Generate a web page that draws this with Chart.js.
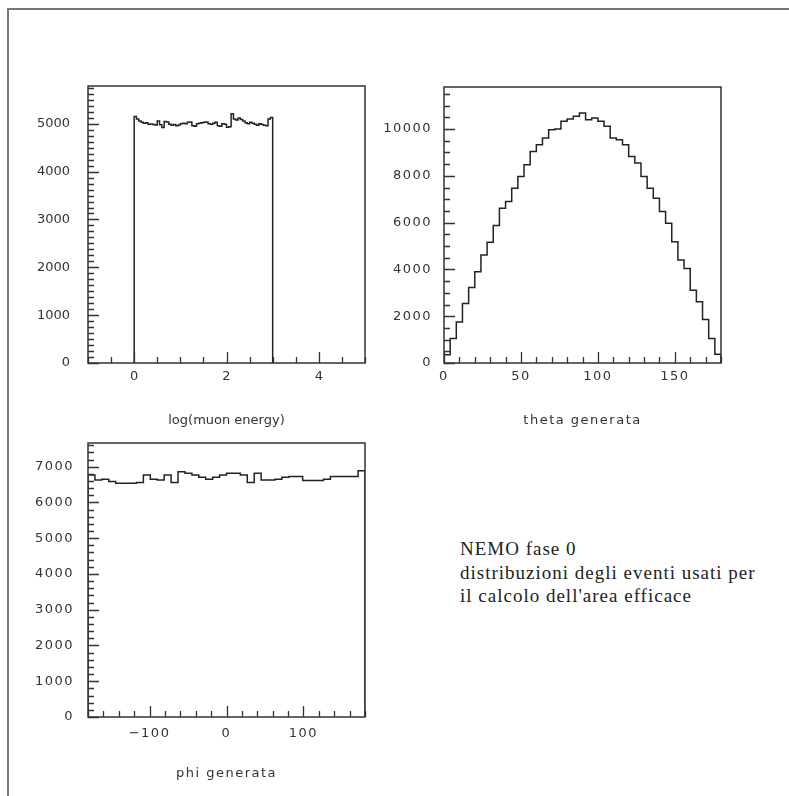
<!DOCTYPE html>
<html>
<head>
<meta charset="utf-8">
<script src="https://cdn.jsdelivr.net/npm/chart.js@4.4.1/dist/chart.umd.min.js"></script>
<style>
  html, body { margin: 0; padding: 0; background: #fff; }
  body { width: 789px; height: 796px; position: relative; overflow: hidden; }
  #frame { position: absolute; left: 7px; top: 8px; width: 790px; height: 800px;
           border-top: 2px solid #777; border-left: 2px solid #777; }
  canvas { position: absolute; }
  #note { position: absolute; left: 460px; top: 537px; color: #222; letter-spacing: 1px;
          font: 19px "Liberation Serif", serif; line-height: 23.5px; white-space: nowrap; }
</style>
</head>
<body>
<div id="frame"></div>
<canvas id="energyChart" width="360" height="370" style="left:20px;top:70px"></canvas>
<canvas id="thetaChart" width="360" height="370" style="left:375px;top:70px"></canvas>
<canvas id="phiChart" width="360" height="370" style="left:20px;top:425px"></canvas>
<div id="note">NEMO fase 0<br>distribuzioni degli eventi usati per<br>il calcolo dell'area efficace</div>

<script>
// --- Data ---
// log(muon energy): 60 bins, 0 .. 3
const energyLow = 0;
const energyBinWidth = 0.05;
const energyCounts = [
  5150, 5100, 5060, 5030, 5010, 5020, 4990, 4995, 4985, 4975,
  5060, 4980, 4920, 5050, 5040, 4990, 4970, 4985, 4960, 4975,
  5000, 5010, 5000, 5030, 5040, 4960, 4950, 5000, 5010, 5020,
  5030, 5040, 5000, 4990, 5010, 5030, 4960, 4950, 5000, 4990,
  4930, 4940, 5210, 5100, 5080, 5120, 5090, 5060, 5020, 5000,
  5030, 5010, 4990, 4970, 5000, 4985, 4970, 4960, 5100, 5130
];
const energyXTicks = [0, 2, 4];
const energyYTicks = [0, 1000, 2000, 3000, 4000, 5000];

// theta generata: 45 bins, 0 .. 180
const thetaLow = 0;
const thetaBinWidth = 4;
const thetaCounts = [
  350, 1043, 1757, 2543, 3229, 3900, 4614, 5157, 5871, 6614,
  6900, 7471, 7971, 8471, 9043, 9329, 9614, 9971, 10000, 10329,
  10429, 10543, 10686, 10400, 10471, 10329, 10114, 9614, 9543, 9329,
  8829, 8543, 7971, 7471, 7043, 6471, 5971, 5186, 4400, 4043,
  3114, 2614, 1857, 1043, 371
];
const thetaXTicks = [0, 50, 100, 150];
const thetaYTicks = [0, 2000, 4000, 6000, 8000, 10000];

// phi generata: 40 bins, -180 .. 180
const phiLow = -180;
const phiBinWidth = 9;
const phiCounts = [
  6769, 6630, 6648, 6583, 6537, 6537, 6537, 6556, 6769, 6648,
  6630, 6769, 6556, 6861, 6815, 6769, 6704, 6648, 6704, 6769,
  6815, 6815, 6769, 6556, 6815, 6630, 6630, 6648, 6704, 6722,
  6722, 6611, 6611, 6611, 6648, 6722, 6722, 6722, 6722, 6889
];
const phiXTicks = [-100, 0, 100];
const phiYTicks = [0, 1000, 2000, 3000, 4000, 5000, 6000, 7000];

// --- Helpers ---
const INK = '#333';
const TICK_FONT = { family: 'DejaVu Sans', size: 13 };

// bin edges -> step outline points (closed to zero at both ends)
function histPoints(low, width, counts) {
  const pts = [{ x: low, y: 0 }];
  counts.forEach((c, i) => pts.push({ x: low + i * width, y: c }));
  pts.push({ x: low + counts.length * width, y: 0 });
  return pts;
}

function isMultiple(v, step) {
  const r = v / step;
  return Math.abs(r - Math.round(r)) < 1e-6;
}

// inward PAW-style tick marks + box frame
const paw = {
  id: 'paw',
  beforeDraw(chart, args, opts) {
    chart.ctx.letterSpacing = opts.spacing;
  },
  afterDatasetsDraw(chart, args, opts) {
    const { ctx, chartArea: a, scales: { x, y } } = chart;
    ctx.save();
    ctx.strokeStyle = INK;
    ctx.lineWidth = 1.3;
    ctx.beginPath();
    for (let i = Math.ceil(x.min / opts.xMinor); i * opts.xMinor <= x.max + 1e-9; i++) {
      const v = i * opts.xMinor;
      const px = Math.round(x.getPixelForValue(v)) + 0.5;
      const len = isMultiple(v, opts.xMajor) ? 11 : 6;
      ctx.moveTo(px, a.bottom);
      ctx.lineTo(px, a.bottom - len);
    }
    for (let i = Math.ceil(y.min / opts.yMinor); i * opts.yMinor <= y.max + 1e-9; i++) {
      const v = i * opts.yMinor;
      const py = Math.round(y.getPixelForValue(v)) + 0.5;
      const len = isMultiple(v, opts.yMajor) ? 11 : 6;
      ctx.moveTo(a.left, py);
      ctx.lineTo(a.left + len, py);
    }
    ctx.stroke();
    ctx.lineWidth = 1.5;
    ctx.strokeRect(a.left, a.top, a.right - a.left, a.bottom - a.top);
    ctx.restore();
  }
};

function makeHist(id, s) {
  return new Chart(document.getElementById(id), {
    type: 'line',
    data: {
      datasets: [{
        data: histPoints(s.low, s.width, s.counts),
        stepped: 'before',
        borderColor: '#222',
        borderWidth: 1.5,
        pointRadius: 0,
        fill: false,
        tension: 0
      }]
    },
    options: {
      responsive: false,
      animation: false,
      events: [],
      layout: { padding: { left: 0, top: s.padTop, right: s.padRight, bottom: 0 } },
      plugins: {
        legend: { display: false },
        tooltip: { enabled: false },
        paw: {
          spacing: s.spacing,
          xMinor: s.xMinor, xMajor: s.xMajor, yMinor: s.yMinor, yMajor: s.yMajor
        }
      },
      scales: {
        x: {
          type: 'linear',
          min: s.xMin,
          max: s.xMax,
          afterBuildTicks: (scale) => { scale.ticks = s.xTicks.map(v => ({ value: v })); },
          afterFit: (scale) => {
            scale.height = s.xAxisHeight;
            scale.paddingLeft = 0;
            scale.paddingRight = 0;
          },
          grid: { display: false, drawTicks: false },
          border: { display: false },
          ticks: {
            color: INK, font: TICK_FONT, padding: s.xLabelPad, maxRotation: 0,
            callback: (v) => String(v).replace('-', '\u2212')
          },
          title: {
            display: true, text: s.title, color: INK,
            font: { family: 'DejaVu Sans', size: 13 },
            padding: { top: 0, bottom: s.titlePad }
          }
        },
        y: {
          min: 0,
          max: s.yMax,
          afterBuildTicks: (scale) => { scale.ticks = s.yTicks.map(v => ({ value: v })); },
          afterFit: (scale) => {
            scale.width = s.yAxisWidth;
            scale.paddingTop = 0;
            scale.paddingBottom = 0;
          },
          grid: { display: false, drawTicks: false },
          border: { display: false },
          ticks: {
            color: INK, font: TICK_FONT, padding: s.yLabelPad,
            callback: (v) => String(v)
          }
        }
      }
    },
    plugins: [paw]
  });
}

// --- Charts ---
makeHist('energyChart', {
  low: energyLow, width: energyBinWidth, counts: energyCounts,
  xMin: -1, xMax: 5, yMax: 5790,
  xTicks: energyXTicks, yTicks: energyYTicks,
  xMinor: 0.5, xMajor: 2, yMinor: 125, yMajor: 1000,
  title: 'log(muon energy)', spacing: '0px',
  padTop: 16, padRight: 15, yAxisWidth: 68, xAxisHeight: 77,
  xLabelPad: 6, yLabelPad: 18, titlePad: 12
});

makeHist('thetaChart', {
  low: thetaLow, width: thetaBinWidth, counts: thetaCounts,
  xMin: 0, xMax: 180, yMax: 11795,
  xTicks: thetaXTicks, yTicks: thetaYTicks,
  xMinor: 10, xMajor: 50, yMinor: 500, yMajor: 2000,
  title: 'theta generata', spacing: '1.5px',
  padTop: 17, padRight: 14, yAxisWidth: 69, xAxisHeight: 77,
  xLabelPad: 6, yLabelPad: 12, titlePad: 12
});

makeHist('phiChart', {
  low: phiLow, width: phiBinWidth, counts: phiCounts,
  xMin: -180, xMax: 180, yMax: 7662,
  xTicks: phiXTicks, yTicks: phiYTicks,
  xMinor: 20, xMajor: 100, yMinor: 200, yMajor: 1000,
  title: 'phi generata', spacing: '1.5px',
  padTop: 18, padRight: 15, yAxisWidth: 68, xAxisHeight: 78,
  xLabelPad: 9, yLabelPad: 14, titlePad: 14
});
</script>
</body>
</html>
